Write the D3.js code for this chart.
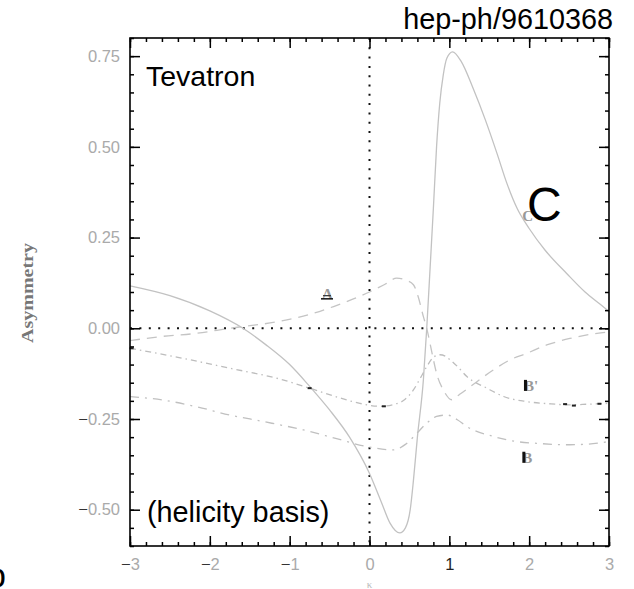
<!DOCTYPE html>
<html lang="en">
<head>
    <meta charset="UTF-8">
    <title>Tevatron asymmetry (helicity basis)</title>
    <script src="https://d3js.org/d3.v7.min.js"></script>
    <style>
        body { margin: 0; background: #fff; }
        svg { display: block; }
        .note { font-family: "Liberation Sans", Arial, sans-serif; fill: #000; }
        .tick line { stroke: #000; stroke-width: 1.5; }
        .curve-label { font-family: "Liberation Serif", serif; font-size: 15px; font-weight: bold; fill: #999; }
    </style>
</head>
<body>
    <div id="chart"></div>

    <script>
        // tick labels
        const xTicks = [-3, -2, -1, 0, 1, 2, 3];
        const yTicks = [-0.5, -0.25, 0, 0.25, 0.5, 0.75];

        // curve C (solid)
        const cX = [-3, -2.5, -2, -1.585, -1.3, -1.0, -0.75, -0.5, -0.25, 0, 0.15, 0.257, 0.38, 0.45, 0.51, 0.55, 0.6, 0.675, 0.717, 0.76, 0.8, 0.84, 0.88, 0.925, 0.97, 1.04, 1.15, 1.3, 1.45, 1.6, 1.72, 1.85, 2.0, 2.2, 2.47, 2.7, 2.89, 3];
        const cY = [0.117, 0.09, 0.048, 0, -0.045, -0.10, -0.16, -0.225, -0.30, -0.40, -0.48, -0.537, -0.564, -0.55, -0.50, -0.42, -0.30, -0.142, 0, 0.17, 0.33, 0.50, 0.62, 0.70, 0.745, 0.762, 0.735, 0.66, 0.575, 0.48, 0.40, 0.33, 0.275, 0.215, 0.151, 0.10, 0.066, 0.046];

        // curve A (dashed)
        const aX = [-3, -2.62, -2.17, -1.75, -1.16, -0.77, -0.45, 0, 0.2, 0.34, 0.45, 0.55, 0.61, 0.675, 0.717, 0.78, 0.84, 0.93, 1.03, 1.13, 1.26, 1.55, 1.76, 1.97, 2.22, 2.51, 2.85, 3];
        const aY = [-0.034, -0.023, -0.014, 0, 0.018, 0.037, 0.06, 0.10, 0.122, 0.138, 0.133, 0.12, 0.087, 0.032, 0, -0.065, -0.124, -0.172, -0.197, -0.182, -0.161, -0.115, -0.087, -0.069, -0.046, -0.028, -0.014, -0.01];

        // curve B' (dash-dot)
        const bpX = [-3, -2.4, -1.75, -1.12, -0.75, -0.4, -0.12, 0.13, 0.3, 0.45, 0.55, 0.63, 0.717, 0.8, 0.88, 0.95, 1.01, 1.1, 1.22, 1.47, 1.68, 1.97, 2.25, 2.51, 2.75, 3];
        const bpY = [-0.055, -0.08, -0.11, -0.14, -0.165, -0.19, -0.207, -0.215, -0.21, -0.195, -0.17, -0.14, -0.106, -0.08, -0.073, -0.077, -0.087, -0.105, -0.133, -0.165, -0.188, -0.202, -0.208, -0.211, -0.209, -0.207];

        // curve B (dash-dot, long dash)
        const bX = [-3, -2.58, -2.17, -1.75, -1.33, -0.83, -0.4, -0.035, 0.3, 0.45, 0.59, 0.7, 0.84, 0.97, 1.1, 1.22, 1.55, 1.84, 2.09, 2.51, 2.8, 3];
        const bY = [-0.188, -0.198, -0.216, -0.239, -0.257, -0.28, -0.305, -0.326, -0.335, -0.32, -0.29, -0.265, -0.243, -0.239, -0.252, -0.271, -0.298, -0.312, -0.317, -0.321, -0.318, -0.312];

        // small dark specks sitting on curve B'
        const speckX = [-2.98, -0.75, 0.18, 2.45, 2.56, 2.88];
        const speckY = [-0.055, -0.165, -0.215, -0.209, -0.213, -0.208];

        const W = 634, H = 589;
        const margin = {top: 38, right: 25, bottom: 43, left: 130};
        const width = W - margin.left - margin.right;
        const height = H - margin.top - margin.bottom;

        const root = d3.select("#chart").append("svg")
            .attr("width", W)
            .attr("height", H);

        const svg = root.append("g")
            .attr("transform", `translate(${margin.left},${margin.top})`);

        const x = d3.scaleLinear().domain([-3, 3]).range([0, width]);
        const y = d3.scaleLinear().domain([-0.6, 0.8]).range([height, 0]);

        // zero lines (dotted)
        svg.append("line")
            .attr("x1", 0).attr("x2", width)
            .attr("y1", y(0)).attr("y2", y(0))
            .attr("stroke", "#111").attr("stroke-width", 2)
            .attr("stroke-dasharray", "2,7.4");
        svg.append("line")
            .attr("x1", x(0)).attr("x2", x(0))
            .attr("y1", 0).attr("y2", height)
            .attr("stroke", "#111").attr("stroke-width", 2)
            .attr("stroke-dasharray", "2,7.3");

        const line = d3.line()
            .x(d => x(d[0]))
            .y(d => y(d[1]))
            .curve(d3.curveMonotoneX);

        const curves = [
            {xs: cX, ys: cY, color: "#c2c2c2", dash: null},
            {xs: aX, ys: aY, color: "#c4c4c4", dash: "10,7"},
            {xs: bpX, ys: bpY, color: "#bdbdbd", dash: "6,4,1.5,4"},
            {xs: bX, ys: bY, color: "#c0c0c0", dash: "9,6,2,6"}
        ];

        curves.forEach(c => {
            svg.append("path")
                .datum(d3.zip(c.xs, c.ys))
                .attr("fill", "none")
                .attr("stroke", c.color)
                .attr("stroke-width", 1.3)
                .attr("stroke-dasharray", c.dash)
                .attr("d", line);
        });

        svg.selectAll(".speck")
            .data(d3.zip(speckX, speckY))
            .enter()
            .append("rect")
            .attr("class", "speck")
            .attr("x", d => x(d[0]) - 2)
            .attr("y", d => y(d[1]) - 1)
            .attr("width", 4)
            .attr("height", 2)
            .attr("fill", "#222");

        // axes: ticks on all four sides, pointing inward
        const xMinor = d3.range(-3, 3.001, 0.2);
        const yMinor = d3.range(-0.6, 0.801, 0.05);

        function styleLabels(sel) {
            sel.attr("font-size", null).attr("font-family", null);
            sel.selectAll(".tick text")
                .attr("font-family", "'Liberation Sans', Arial, sans-serif")
                .attr("font-size", 16.5)
                .attr("fill", "#aaa")
                .each(function() {
                    const t = d3.select(this);
                    const s = t.text();
                    if (s.startsWith("−")) {
                        t.text(null);
                        t.append("tspan").attr("fill", "#333").text("−");
                        t.append("tspan").text(s.slice(1));
                    }
                    if (s === "1") t.attr("fill", "#222");
                });
        }

        svg.append("g")
            .attr("transform", `translate(0,${height})`)
            .call(d3.axisBottom(x).tickValues(xTicks).tickSize(-10).tickPadding(12).tickFormat(d3.format("d")))
            .call(g => g.select(".domain").remove())
            .call(styleLabels);
        svg.append("g")
            .attr("transform", `translate(0,${height})`)
            .call(d3.axisBottom(x).tickValues(xMinor).tickSize(-4).tickFormat(""))
            .call(g => g.select(".domain").remove());
        svg.append("g")
            .call(d3.axisTop(x).tickValues(xTicks).tickSize(-10).tickFormat(""))
            .call(g => g.select(".domain").remove());
        svg.append("g")
            .call(d3.axisTop(x).tickValues(xMinor).tickSize(-4).tickFormat(""))
            .call(g => g.select(".domain").remove());

        svg.append("g")
            .call(d3.axisLeft(y).tickValues(yTicks).tickSize(-10).tickPadding(10).tickFormat(d3.format(".2f")))
            .call(g => g.select(".domain").remove())
            .call(styleLabels);
        svg.append("g")
            .call(d3.axisLeft(y).tickValues(yMinor).tickSize(-4).tickFormat(""))
            .call(g => g.select(".domain").remove());
        svg.append("g")
            .attr("transform", `translate(${width},0)`)
            .call(d3.axisRight(y).tickValues(yTicks).tickSize(-10).tickFormat(""))
            .call(g => g.select(".domain").remove());
        svg.append("g")
            .attr("transform", `translate(${width},0)`)
            .call(d3.axisRight(y).tickValues(yMinor).tickSize(-4).tickFormat(""))
            .call(g => g.select(".domain").remove());

        svg.append("rect")
            .attr("width", width)
            .attr("height", height)
            .attr("fill", "none")
            .attr("stroke", "#000")
            .attr("stroke-width", 1.6);

        // curve labels
        const labels = [
            {t: "A", x: -0.52, y: 0.097, bar: "under"},
            {t: "B'", x: 2.01, y: -0.156, bar: "left"},
            {t: "B", x: 1.99, y: -0.354, bar: "left"},
            {t: "C", x: 1.99, y: 0.313, bar: null}
        ];
        labels.forEach(l => {
            const tx = x(l.x) - 6, ty = y(l.y) + 6;
            svg.append("text").attr("class", "curve-label")
                .attr("x", tx).attr("y", ty).text(l.t);
            if (l.bar === "left") {
                svg.append("rect").attr("x", tx).attr("y", ty - 11)
                    .attr("width", 3).attr("height", 11).attr("fill", "#111");
            } else if (l.bar === "under") {
                svg.append("rect").attr("x", tx - 1).attr("y", ty - 1)
                    .attr("width", 12).attr("height", 1.5).attr("fill", "#111");
                svg.append("rect").attr("x", tx + 1).attr("y", ty - 4)
                    .attr("width", 8).attr("height", 1.2).attr("fill", "#333");
            }
        });

        // axis titles
        root.append("text")
            .attr("transform", "translate(33,293) rotate(-90)")
            .attr("text-anchor", "middle")
            .attr("font-family", "'Liberation Serif', serif")
            .attr("font-size", 16)
            .attr("font-weight", "bold")
            .attr("fill", "#777")
            .attr("textLength", 100)
            .attr("lengthAdjust", "spacingAndGlyphs")
            .text("Asymmetry");
        root.append("text")
            .attr("x", margin.left + x(0))
            .attr("y", 588)
            .attr("text-anchor", "middle")
            .attr("font-family", "'Liberation Serif', serif")
            .attr("font-size", 11)
            .attr("fill", "#bbb")
            .text("κ");

        // overlaid annotations
        root.append("text").attr("class", "note")
            .attr("x", 613).attr("y", 29)
            .attr("text-anchor", "end")
            .attr("font-size", 28.8)
            .text("hep-ph/9610368");
        root.append("text").attr("class", "note")
            .attr("x", 146).attr("y", 86)
            .attr("font-size", 28.5)
            .text("Tevatron");
        root.append("text").attr("class", "note")
            .attr("x", 527).attr("y", 221)
            .attr("font-size", 48)
            .text("C");
        root.append("text").attr("class", "note")
            .attr("x", 147).attr("y", 522)
            .attr("font-size", 28.8)
            .text("(helicity basis)");
        root.append("text").attr("class", "note")
            .attr("x", -13).attr("y", 587)
            .attr("font-size", 34)
            .text("p");
    </script>
</body>
</html>
